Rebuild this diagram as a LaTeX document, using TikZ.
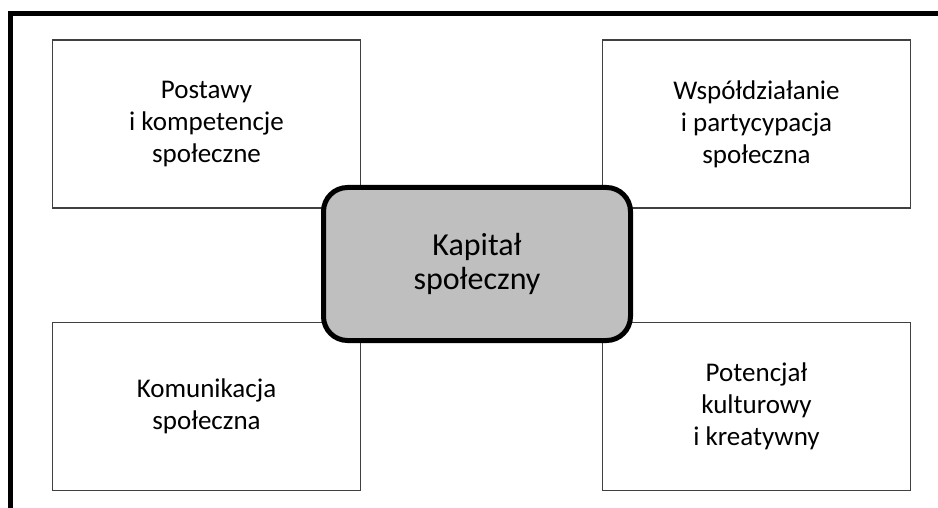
\documentclass[tikz,border=0pt]{standalone}
\usepackage{fontspec}
\setmainfont{Carlito}
\begin{document}
\begin{tikzpicture}[x=1pt,y=-1pt,
  areabox/.style={draw=black!75, line width=1.5pt, fill=white,
    minimum width=308pt, minimum height=168pt, inner sep=0pt,
    align=center, font=\fontsize{27}{32}\selectfont},
  corebox/.style={draw=black, line width=5pt, fill=black!25,
    rounded corners=24pt, minimum width=307pt, minimum height=153pt,
    inner sep=0pt, align=center, font=\fontsize{32}{34}\selectfont},
  frameline/.style={line width=5pt}]
\useasboundingbox (0,0) rectangle (938,508);

% open frame: left and top edges only
\coordinate (fbl) at (10.7,508);
\coordinate (ftl) at (10.7,13.5);
\coordinate (ftr) at (938,13.5);
\draw[frameline] (fbl) -- (ftl) -- (ftr);

% four surrounding areas
\node[areabox] (att) at (206.5,124) {Postawy\\i kompetencje\\społeczne};
\node[areabox] (coop) at (756.5,124) {Współdziałanie\\i partycypacja\\społeczna};
\node[areabox] (comm) at (206.5,406.5) {Komunikacja\\społeczna};
\node[areabox] (cult) at (756.5,406.5) {Potencjał\\kulturowy\\i kreatywny};

% central concept on top
\node[corebox] (core) at (477,264) {Kapitał\\społeczny};
\end{tikzpicture}
\end{document}
